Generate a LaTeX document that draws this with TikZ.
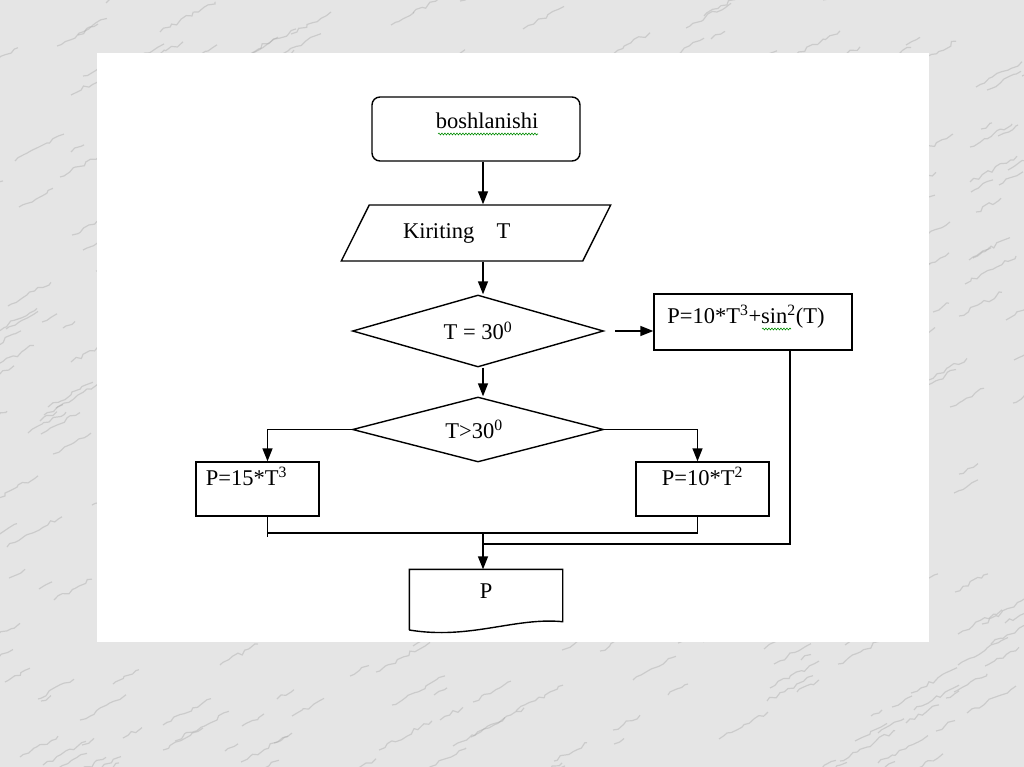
\documentclass[tikz,border=0pt]{standalone}
\usepackage{fontspec}
\setmainfont{Liberation Serif}
\usetikzlibrary{shapes.geometric,arrows.meta,decorations.pathmorphing}

\begin{document}
\begin{tikzpicture}[x=1pt, y=-1pt, line width=1.4pt,
    every node/.style={font=\fontsize{22.5}{26}\selectfont, inner sep=0pt},
    arr/.style={-{Triangle[length=13pt,width=10pt]}},
    blok/.style={draw, rectangle},
    romb/.style={draw, diamond, minimum width=251pt, minimum height=72pt, shape aspect=3.5},
    vein/.style={gray!70, line width=1.2pt, opacity=0.4, decorate,
        decoration={random steps, segment length=5pt, amplitude=2pt}},
    squiggle/.style={green!55!black, line width=0.6pt, decorate,
        decoration={snake, amplitude=0.9pt, segment length=3pt}}]

    \useasboundingbox (0,0) rectangle (1024,767);

    % fon (marmar)
    \begin{scope}
        \clip (0,0) rectangle (1024,767);
        \fill[gray!20] (0,0) rectangle (1024,767);
        \pgfmathsetseed{11}
        \foreach \k in {1,...,420}{
            \pgfmathsetmacro{\vx}{random(-40,1024)}
            \pgfmathsetmacro{\vy}{random(0,800)}
            \pgfmathsetmacro{\vl}{random(10,55)}
            \draw[vein] (\vx,\vy) -- ++(\vl,-0.55*\vl);
        }
    \end{scope}
    \fill[white] (97,53) rectangle (929,642);

    % bloklar
    \node[blok, rounded corners=8pt, minimum width=208pt, minimum height=64pt,
        text height=15pt, text depth=16pt] (start) at (476,129) {\hspace{22pt}boshlanishi};
    \node[draw, trapezium, trapezium left angle=46, trapezium right angle=134,
        trapezium stretches=true, minimum width=270pt, minimum height=56pt,
        text width=146pt, align=left] (input) at (476,233) {Kiriting\ \ \ T};
    \node[romb] (d1) at (478,331) {T = 30\textsuperscript{0}};
    \node[romb, minimum height=65pt, shape aspect=3.86] (d2) at (478,429.5) {T>30\textsuperscript{0}\hspace{8pt}\null};
    \node[blok, minimum width=198pt, minimum height=56pt,
        text height=16pt, text depth=14pt] (calc) at (753,322) {P=10*T\textsuperscript{3}+sin\textsuperscript{2}(T)\hspace{14pt}\null};
    \node[blok, minimum width=123pt, minimum height=54pt,
        text height=15pt, text depth=22pt] (left) at (257.5,489) {P=15*T\textsuperscript{3}\hspace{22pt}\null};
    \node[blok, minimum width=133pt, minimum height=54pt,
        text height=15pt, text depth=22pt] (right) at (702.5,489) {P=10*T\textsuperscript{2}};
    \node[minimum width=152pt, minimum height=51pt,
        text height=15pt, text depth=10pt] (out) at (486,595.5) {P};
    \draw (out.south west |- 0,630) -- (out.north west) -- (out.north east) -- (out.south east)
        .. controls (515,617) and (470,640) .. (out.south west |- 0,630);

    % imlo belgilari
    \draw[squiggle] (438,134) -- (538,134);
    \draw[squiggle] (762,329) -- (791,329);

    % tutashuvlar
    \coordinate (spine) at (483,0);
    \coordinate (mergeA) at (483,533);
    \coordinate (mergeB) at (483,544);
    \draw[arr] (start.south -| spine) -- (input.north -| spine);
    \draw[arr] (input.south -| spine) -- (d1.north -| spine);
    \draw[arr] (d1.south -| spine) -- (d2.north -| spine);
    \draw[arr] ([xshift=11pt]d1.east) -- (calc.west |- d1.east);
    \draw[arr] (d2.west) -| ([xshift=10pt]left.north);
    \draw[arr] (d2.east) -| ([xshift=-5pt]right.north);
    \draw ([xshift=10pt]left.south) -- ([xshift=10pt,yshift=-4pt]left.south |- mergeA);
    \draw ([xshift=10pt]left.south |- mergeA) -- ([xshift=-5pt]right.south |- mergeA)
        -- ([xshift=-5pt]right.south);
    \draw ([xshift=37pt]calc.south) |- (mergeB);
    \draw[arr] (mergeA) -- (out.north -| mergeA);
\end{tikzpicture}
\end{document}
